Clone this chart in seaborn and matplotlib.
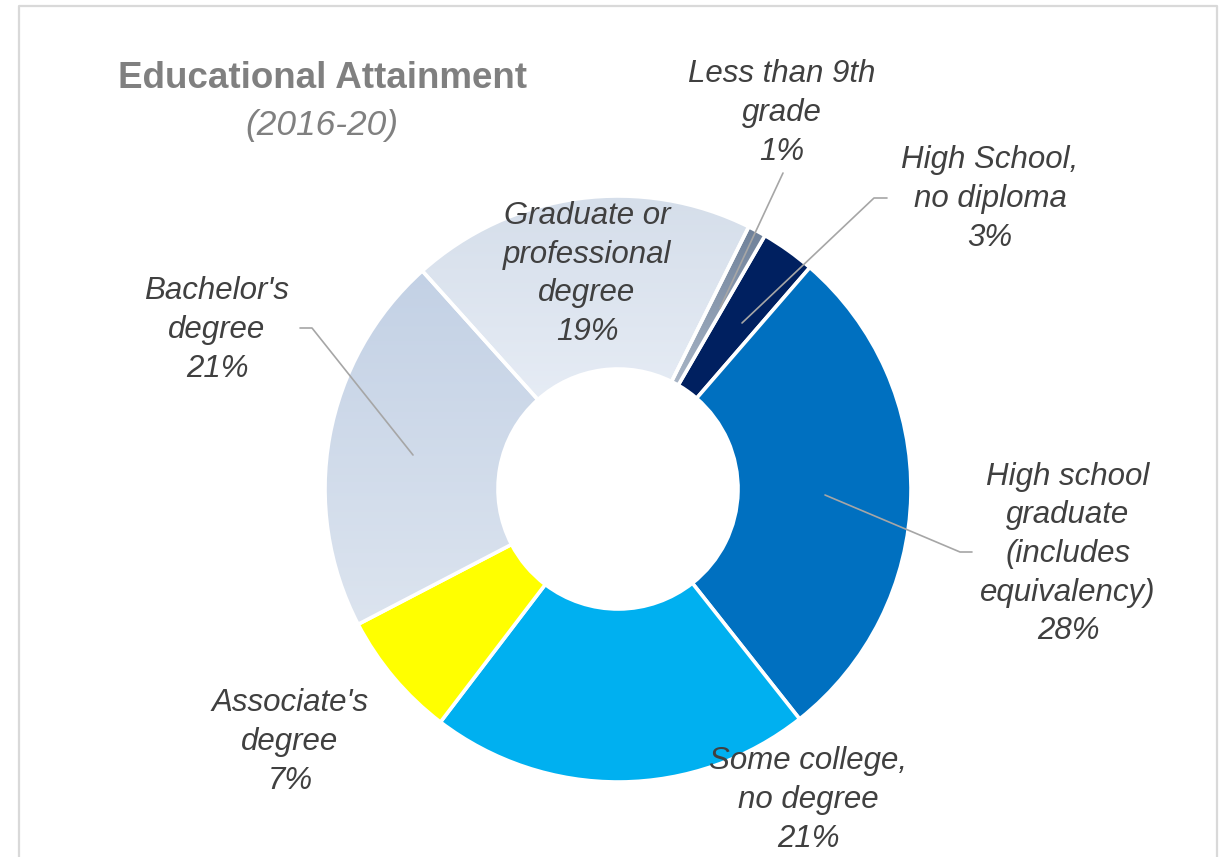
import numpy as np
import matplotlib
matplotlib.use("Agg")
import matplotlib.pyplot as plt
from matplotlib.lines import Line2D
import seaborn as sns

# --- data -------------------------------------------------------------
categories = [
    "Less than 9th\ngrade",
    "High School,\nno diploma",
    "High school\ngraduate\n(includes\nequivalency)",
    "Some college,\nno degree",
    "Associate's\ndegree",
    "Bachelor's\ndegree",
    "Graduate or\nprofessional\ndegree",
]
shares = [1, 3, 28, 21, 7, 21, 19]
title = "Educational Attainment"
subtitle = "(2016-20)"

# --- style ------------------------------------------------------------
sns.set_theme(style="white")
plt.rcParams["font.family"] = ["Liberation Sans", "DejaVu Sans"]

solid_colors = [None, "#002060", "#0070C0", "#00B0F0", "#FFFF00", None, None]
gradients = {0: ("#6E8099", "#A8B5C6"),
             5: ("#C3D1E5", "#DCE4EF"),
             6: ("#D5DEEA", "#E6ECF5")}

W, H = 1227, 857
fig = plt.figure(figsize=(W / 100, H / 100), dpi=100)
ax = fig.add_axes([0, 0, 1, 1])


def Y(y):
    return H - y


cx, cy = 618, 489
R_out, R_in = 293, 120

wedges, _ = ax.pie(
    shares,
    colors=[c if c else "white" for c in solid_colors],
    startangle=63.5,
    counterclock=False,
    center=(cx, Y(cy)),
    radius=R_out,
    wedgeprops=dict(width=R_out - R_in, edgecolor="white", linewidth=2.6),
)

# vertical gradient fills for the lighter slices
for idx, (top, bottom) in gradients.items():
    w = wedges[idx]
    w.set_facecolor("none")
    w.set_zorder(3)
    ext = w.get_path().get_extents(w.get_patch_transform())
    t = np.array(matplotlib.colors.to_rgb(top))
    b = np.array(matplotlib.colors.to_rgb(bottom))
    f = np.linspace(0, 1, 256)[:, None]
    grad = (t[None, :] * (1 - f) + b[None, :] * f)[:, None, :]
    im = ax.imshow(grad, extent=(ext.x0, ext.x1, ext.y0, ext.y1),
                   origin="upper", aspect="auto", zorder=2,
                   interpolation="bilinear")
    im.set_clip_path(w)

ax.set_xlim(0, W)
ax.set_ylim(0, H)
ax.set_aspect("auto")
ax.axis("off")

# --- text ---------------------------------------------------------------
ax.text(322, Y(78), title, ha="center", va="center", fontsize=26.5,
        fontweight="bold", color="#808080")
ax.text(322, Y(125), subtitle, ha="center", va="center", fontsize=25.5,
        fontstyle="italic", color="#808080")

label_pos = [(782, 113), (990, 199), (1068, 554), (808, 800),
             (290, 742), (217, 330), (587, 274)]
for cat, val, (lx, ly) in zip(categories, shares, label_pos):
    ax.text(lx, Y(ly), f"{cat}\n{val}%", ha="center", va="center",
            multialignment="center", fontsize=22.5, fontstyle="italic",
            color="#404040", linespacing=1.38, zorder=5)

# leader lines
leaders = [
    [(783, 173), (720, 308)],
    [(887, 198), (874, 198), (742, 323)],
    [(972, 552), (960, 552), (825, 495)],
    [(300, 328), (312, 328), (413, 455)],
]
for pts in leaders:
    xs, ys = zip(*pts)
    ax.add_line(Line2D(xs, [Y(v) for v in ys], color="#A6A6A6",
                       linewidth=1.2, zorder=6))

# chart frame
frame = [(18.5, H + 5), (18.5, 6), (1217, 6), (1217, H + 5)]
fx, fy = zip(*frame)
ax.add_line(Line2D(fx, [Y(v) for v in fy], color="#D9D9D9", linewidth=1.6,
                   zorder=7, clip_on=False))

fig.savefig("out.png", dpi=100)
